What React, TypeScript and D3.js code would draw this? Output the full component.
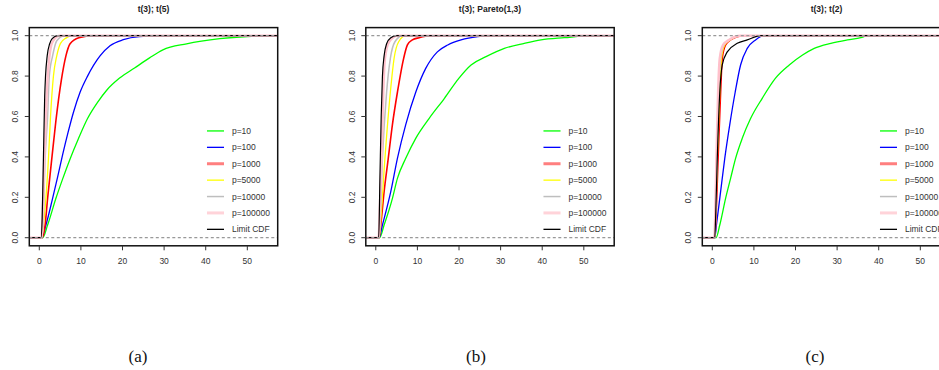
import React from "react";
import * as d3 from "d3";

type Pt = [number, number];

const panelTitles = ["t(3); t(5)", "t(3); Pareto(1,3)", "t(3); t(2)"];
const captions = ["(a)", "(b)", "(c)"];
const seriesNames = ["p=10", "p=100", "p=1000", "p=5000", "p=10000", "p=100000", "Limit CDF"];
const seriesColors = ["#00ff00", "#0000ff", "#ff0000", "#ffff00", "#bebebe", "#ffc0cb", "#000000"];
const legendColors = ["#00ff00", "#0000ff", "#ff7f7f", "#ffff00", "#bebebe", "#ffd3d9", "#000000"];
const xTicks = [0, 10, 20, 30, 40, 50];
const yTicks = [0, 0.2, 0.4, 0.6, 0.8, 1.0];

// Panel (a): t(3); t(5)
const a_p10: Pt[] = [[0.8, 0], [2.0, 0.063], [4.0, 0.195], [5.6, 0.29], [7.4, 0.39], [9.4, 0.49], [11.6, 0.59], [14.0, 0.67], [16.2, 0.73], [19.3, 0.79], [22.9, 0.84], [26.5, 0.89], [29.7, 0.93], [35.4, 0.96], [43.4, 0.985], [50.0, 0.996], [56.6, 1.0]];
const a_p100: Pt[] = [[0.6, 0], [1.6, 0.063], [3.2, 0.195], [4.4, 0.3], [5.6, 0.41], [6.9, 0.52], [8.2, 0.62], [9.8, 0.72], [11.6, 0.8], [14.6, 0.9], [17.0, 0.95], [20.2, 0.98], [24.0, 0.995], [30.0, 1.0]];
const a_p1000: Pt[] = [[0.7, 0], [1.4, 0.063], [2.0, 0.195], [3.0, 0.39], [4.0, 0.58], [5.3, 0.78], [6.4, 0.9], [7.4, 0.96], [9.5, 0.99], [13.0, 1.0]];
const a_p5000: Pt[] = [[0.6, 0], [1.0, 0.063], [2.2, 0.39], [2.7, 0.6], [3.4, 0.8], [4.2, 0.9], [5.1, 0.962], [6.4, 0.988], [8.0, 1.0]];
const a_p10000: Pt[] = [[0.6, 0], [0.9, 0.063], [1.4, 0.39], [2.0, 0.6], [2.4, 0.8], [3.2, 0.9], [4.2, 0.975], [6.0, 1.0]];
const a_p100000: Pt[] = [[0.5, 0], [0.8, 0.1], [1.2, 0.39], [1.8, 0.72], [2.4, 0.89], [3.2, 0.97], [4.8, 1.0]];
const a_limit: Pt[] = [[0.4, 0], [0.7, 0.1], [1.0, 0.4], [1.3, 0.7], [1.5, 0.8], [1.9, 0.9], [2.5, 0.96], [3.1, 0.985], [4.4, 1.0]];

// Panel (b): t(3); Pareto(1,3)
const b_p10: Pt[] = [[0.9, 0], [2.0, 0.063], [4.0, 0.195], [5.2, 0.294], [7.2, 0.393], [9.6, 0.492], [12.8, 0.59], [16.5, 0.69], [20.0, 0.79], [22.9, 0.855], [26.5, 0.896], [30.9, 0.937], [35.7, 0.962], [39.7, 0.979], [45.3, 0.99], [51.8, 1.0]];
const b_p100: Pt[] = [[0.8, 0], [1.6, 0.063], [3.6, 0.228], [5.2, 0.393], [7.2, 0.56], [9.6, 0.72], [12.0, 0.838], [14.8, 0.92], [17.3, 0.954], [20.5, 0.979], [24.5, 0.995], [27.7, 1.0]];
const b_p1000: Pt[] = [[0.8, 0], [1.2, 0.063], [2.0, 0.228], [3.0, 0.393], [4.0, 0.56], [5.2, 0.72], [6.7, 0.888], [7.6, 0.954], [8.8, 0.979], [10.4, 0.99], [13.2, 1.0]];
const b_p5000: Pt[] = [[0.8, 0], [1.1, 0.063], [2.2, 0.393], [3.5, 0.72], [4.4, 0.888], [5.5, 0.97], [7.2, 1.0]];
const b_p10000: Pt[] = [[0.8, 0], [1.0, 0.063], [1.6, 0.393], [2.6, 0.72], [3.5, 0.888], [4.6, 0.97], [6.4, 1.0]];
const b_p100000: Pt[] = [[0.7, 0], [0.9, 0.1], [1.4, 0.393], [1.8, 0.72], [2.2, 0.888], [3.2, 0.97], [5.2, 1.0]];
const b_limit: Pt[] = [[0.7, 0], [1.0, 0.3], [1.3, 0.6], [1.6, 0.8], [2.0, 0.9], [2.6, 0.96], [3.6, 0.99], [5.0, 1.0]];

// Panel (c): t(3); t(2)
const c_p10: Pt[] = [[0.9, 0], [1.8, 0.063], [3.2, 0.195], [4.4, 0.294], [5.6, 0.393], [7.2, 0.492], [9.2, 0.59], [12.0, 0.69], [15.2, 0.79], [18.5, 0.855], [21.7, 0.904], [24.5, 0.937], [28.5, 0.962], [32.5, 0.979], [35.7, 0.99], [37.3, 1.0]];
const c_p100: Pt[] = [[0.6, 0], [1.0, 0.063], [2.0, 0.228], [3.0, 0.393], [4.2, 0.56], [5.5, 0.72], [6.8, 0.855], [8.4, 0.937], [10.4, 0.979], [12.4, 1.0]];
const c_p1000: Pt[] = [[0.6, 0], [0.8, 0.063], [1.4, 0.393], [2.0, 0.72], [2.4, 0.888], [3.2, 0.954], [4.4, 0.979], [7.6, 1.0]];
const c_p5000: Pt[] = [[0.6, 0], [0.8, 0.1], [1.2, 0.393], [1.8, 0.72], [2.2, 0.888], [3.0, 0.954], [4.3, 0.979], [7.2, 1.0]];
const c_p10000: Pt[] = [[0.5, 0], [0.7, 0.1], [1.05, 0.393], [1.5, 0.72], [2.0, 0.888], [2.8, 0.954], [4.1, 0.979], [6.8, 1.0]];
const c_p100000: Pt[] = [[0.5, 0], [0.7, 0.1], [1.0, 0.393], [1.4, 0.72], [1.8, 0.888], [2.6, 0.954], [4.0, 0.979], [6.8, 1.0]];
const c_limit: Pt[] = [[0.6, 0], [0.8, 0.1], [1.2, 0.393], [1.8, 0.72], [2.4, 0.855], [3.6, 0.92], [6.0, 0.962], [8.4, 0.979], [11.6, 1.0]];

const panelSeries: Pt[][][] = [
  [a_p10, a_p100, a_p1000, a_p5000, a_p10000, a_p100000, a_limit],
  [b_p10, b_p100, b_p1000, b_p5000, b_p10000, b_p100000, b_limit],
  [c_p10, c_p100, c_p1000, c_p5000, c_p10000, c_p100000, c_limit],
];

const lineWidths = [1.3, 1.3, 1.6, 1.3, 1.5, 2.5, 1.2];
const legendWidths = [1.3, 1.3, 3, 1.3, 1.5, 3, 1.3];

const W = 939;
const H = 370;
const PANEL_STEP = 336.5;
const PL = 29.3, PR = 277.7, PT = 27.6, PB = 245.8;
const XDOM: [number, number] = [-2.4, 57.3];
const sans = "'Liberation Sans', Arial, Helvetica, sans-serif";

function Panel({ idx }: { idx: number }) {
  const dx = idx * PANEL_STEP;
  const x = d3.scaleLinear().domain(XDOM).range([PL + dx, PR + dx]);
  const y = d3.scaleLinear().domain([-0.04, 1.04]).range([PB, PT]);
  const line = d3
    .line<Pt>()
    .x((d) => x(d[0]))
    .y((d) => y(d[1]))
    .curve(d3.curveMonotoneX);
  const clipId = `clip-${idx}`;
  const series = panelSeries[idx];
  const legX0 = x(40.3);
  const legX1 = x(44.4);
  const legTx = x(46.3);
  const legY0 = y(0.5285);
  const legStep = 16.4;
  return (
    <g>
      <defs>
        <clipPath id={clipId}>
          <rect x={PL + dx} y={PT} width={PR - PL} height={PB - PT} />
        </clipPath>
      </defs>
      <text x={(PL + PR) / 2 + dx} y={12} textAnchor="middle" fontFamily={sans} fontWeight="bold" fontSize={8.5} fill="#222">
        {panelTitles[idx]}
      </text>
      <g clipPath={`url(#${clipId})`}>
        {series.map((s, i) => {
          const pts: Pt[] = [[XDOM[0] - 1, 0], ...s, [XDOM[1] + 1, 1]];
          return (
            <path key={i} d={line(pts) || ""} fill="none" stroke={seriesColors[i]} strokeWidth={lineWidths[i]} strokeLinejoin="round" />
          );
        })}
        {[0, 1].map((v) => (
          <line key={v} x1={PL + dx} x2={PR + dx} y1={y(v)} y2={y(v)} stroke="#999" strokeWidth={1.2} strokeDasharray="3,2.5" />
        ))}
      </g>
      {seriesNames.map((n, i) => (
        <g key={n}>
          <line x1={legX0} x2={legX1} y1={legY0 + i * legStep} y2={legY0 + i * legStep} stroke={legendColors[i]} strokeWidth={legendWidths[i]} />
          <text x={legTx} y={legY0 + i * legStep + 3} fontFamily={sans} fontSize={8.5} fill="#333">
            {n}
          </text>
        </g>
      ))}
      <rect x={PL + dx} y={PT} width={PR - PL} height={PB - PT} fill="none" stroke="#111" strokeWidth={1.5} />
      {xTicks.map((t) => (
        <g key={t}>
          <line x1={x(t)} x2={x(t)} y1={PB} y2={PB + 4.5} stroke="#333" strokeWidth={1} />
          <text x={x(t)} y={264} textAnchor="middle" fontFamily={sans} fontSize={8.5} fill="#333">
            {t}
          </text>
        </g>
      ))}
      {yTicks.map((t) => (
        <g key={t}>
          <line x1={PL + dx - 4.5} x2={PL + dx} y1={y(t)} y2={y(t)} stroke="#333" strokeWidth={1} />
          <text
            transform={`translate(${18 + dx},${y(t)}) rotate(-90)`}
            textAnchor="middle"
            fontFamily={sans}
            fontSize={8.5}
            fill="#333"
          >
            {t.toFixed(1)}
          </text>
        </g>
      ))}
    </g>
  );
}

const captionX = [138, 476, 815];

export default function App() {
  return (
    <svg width={W} height={H} style={{ position: "absolute", left: 0, top: 0, background: "#fff" }}>
      <rect x={0} y={0} width={W} height={H} fill="#fff" />
      {[0, 1, 2].map((i) => (
        <Panel key={i} idx={i} />
      ))}
      {captions.map((c, i) => (
        <text key={c} x={captionX[i]} y={362} textAnchor="middle" fontFamily="'Liberation Serif', 'DejaVu Serif', serif" fontSize={17} fill="#111">
          {c}
        </text>
      ))}
    </svg>
  );
}
